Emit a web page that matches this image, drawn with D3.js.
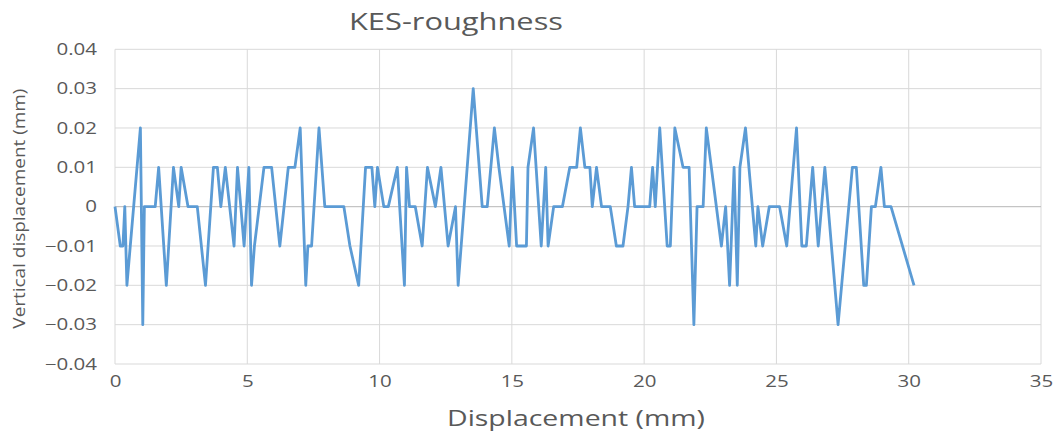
<!DOCTYPE html>
<html>
<head>
<meta charset="utf-8">
<script src="https://cdn.jsdelivr.net/npm/d3@7"></script>
<style>
  html, body { margin: 0; padding: 0; background: #fff; }
  svg { display: block; }
  text { font-family: "Open Sans", "Liberation Sans", sans-serif; fill: #595959; }
</style>
</head>
<body>
<svg id="chart" width="1058" height="441"></svg>
<script>
// Profile position along the sample (mm)
const displacement = [
  0.00, 0.20, 0.30, 0.37, 0.45, 0.96, 1.05, 1.11, 1.52, 1.65,
  1.94, 2.21, 2.41, 2.50, 2.76, 3.11, 3.42, 3.72, 3.87, 4.00,
  4.17, 4.50, 4.63, 4.88, 5.06, 5.16, 5.27, 5.63, 5.92, 6.23,
  6.55, 6.80, 7.00, 7.21, 7.29, 7.43, 7.71, 7.93, 8.65, 8.88,
  9.21, 9.47, 9.71, 9.82, 9.92, 10.16, 10.33, 10.67, 10.94, 11.02,
  11.13, 11.35, 11.61, 11.81, 12.11, 12.32, 12.59, 12.87, 12.97, 13.54,
  13.88, 14.07, 14.34, 14.51, 14.90, 15.02, 15.18, 15.55, 15.61, 15.82,
  16.11, 16.28, 16.37, 16.58, 16.91, 17.19, 17.45, 17.59, 17.76, 17.95,
  18.04, 18.20, 18.39, 18.72, 18.95, 19.20, 19.39, 19.52, 19.64, 20.21,
  20.32, 20.42, 20.59, 20.87, 20.99, 21.16, 21.47, 21.70, 21.88, 22.00,
  22.23, 22.35, 22.92, 23.08, 23.23, 23.40, 23.52, 23.62, 23.83, 24.22,
  24.30, 24.48, 24.73, 25.12, 25.39, 25.76, 25.96, 26.13, 26.37, 26.58,
  26.83, 27.33, 27.87, 28.02, 28.30, 28.40, 28.59, 28.74, 28.95, 29.08,
  29.33, 30.20
];

// Vertical displacement of the surface (mm)
const vertical = [
  0.00, -0.01, -0.01, 0.00, -0.02, 0.02, -0.03, 0.00, 0.00, 0.01,
  -0.02, 0.01, 0.00, 0.01, 0.00, 0.00, -0.02, 0.01, 0.01, 0.00,
  0.01, -0.01, 0.01, -0.01, 0.01, -0.02, -0.01, 0.01, 0.01, -0.01,
  0.01, 0.01, 0.02, -0.02, -0.01, -0.01, 0.02, 0.00, 0.00, -0.01,
  -0.02, 0.01, 0.01, 0.00, 0.01, 0.00, 0.00, 0.01, -0.02, 0.01,
  0.00, 0.00, -0.01, 0.01, 0.00, 0.01, -0.01, 0.00, -0.02, 0.03,
  0.00, 0.00, 0.02, 0.01, -0.01, 0.01, -0.01, -0.01, 0.01, 0.02,
  -0.01, 0.01, -0.01, 0.00, 0.00, 0.01, 0.01, 0.02, 0.01, 0.01,
  0.00, 0.01, 0.00, 0.00, -0.01, -0.01, 0.00, 0.01, 0.00, 0.00,
  0.01, 0.00, 0.02, -0.01, -0.01, 0.02, 0.01, 0.01, -0.03, 0.00,
  0.00, 0.02, -0.01, 0.00, -0.02, 0.01, -0.02, 0.01, 0.02, -0.01,
  0.00, -0.01, 0.00, 0.00, -0.01, 0.02, -0.01, -0.01, 0.01, -0.01,
  0.01, -0.03, 0.01, 0.01, -0.02, -0.02, 0.00, 0.00, 0.01, 0.00,
  0.00, -0.02
];

const xTicks = [0, 5, 10, 15, 20, 25, 30, 35];
const yTicks = [-0.04, -0.03, -0.02, -0.01, 0, 0.01, 0.02, 0.03, 0.04];

const chartTitle = "KES-roughness";
const xTitle = "Displacement (mm)";
const yTitle = "Vertical displacement (mm)";

const svg = d3.select("#chart");
const plot = { left: 115, right: 1041, top: 49.3, bottom: 364 };

const x = d3.scaleLinear().domain([0, 35]).range([plot.left, plot.right]);
const y = d3.scaleLinear().domain([-0.04, 0.04]).range([plot.bottom, plot.top]);

// Widen text horizontally by a factor, keeping it as plain text
function widen(sel, factor) {
  sel.each(function () {
    const w = this.getComputedTextLength();
    d3.select(this)
      .attr("textLength", w * factor)
      .attr("lengthAdjust", "spacingAndGlyphs");
  });
}

// Gridlines
svg.append("g")
  .selectAll("line")
  .data(yTicks)
  .join("line")
  .attr("x1", plot.left).attr("x2", plot.right)
  .attr("y1", d => y(d)).attr("y2", d => y(d))
  .attr("stroke", "#d9d9d9").attr("stroke-width", 1);

svg.append("g")
  .selectAll("line")
  .data(xTicks)
  .join("line")
  .attr("x1", d => x(d)).attr("x2", d => x(d))
  .attr("y1", plot.top).attr("y2", plot.bottom)
  .attr("stroke", "#d9d9d9").attr("stroke-width", 1);

// Horizontal axis line crossing at zero
svg.append("line")
  .attr("x1", plot.left).attr("x2", plot.right)
  .attr("y1", y(0)).attr("y2", y(0))
  .attr("stroke", "#bfbfbf").attr("stroke-width", 1);

// Y axis labels
const yAxis = d3.axisLeft(y).tickValues(yTicks)
  .tickFormat(d => d === 0 ? "0" : d3.format(".2f")(d))
  .tickSize(0).tickPadding(18);
const gy = svg.append("g").attr("transform", `translate(${plot.left},0)`).call(yAxis);
gy.select(".domain").remove();
gy.selectAll("text").style("font-size", "16px").attr("fill", "#595959");
widen(gy.selectAll("text"), 1.28);

// X axis labels along the bottom
const xAxis = d3.axisBottom(x).tickValues(xTicks).tickSize(0).tickPadding(12);
const gx = svg.append("g").attr("transform", `translate(0,${plot.bottom})`).call(xAxis);
gx.select(".domain").remove();
gx.selectAll("text").style("font-size", "16px").attr("fill", "#595959");
widen(gx.selectAll("text"), 1.28);

// Profile line
const line = d3.line()
  .x((d, i) => x(displacement[i]))
  .y(d => y(d));
svg.append("path")
  .datum(vertical)
  .attr("d", line)
  .attr("fill", "none")
  .attr("stroke", "#5b9bd5")
  .attr("stroke-width", 2.8)
  .attr("stroke-linejoin", "round");

// Titles
svg.append("text")
  .attr("x", 456).attr("y", 30)
  .attr("text-anchor", "middle")
  .style("font-size", "24px")
  .attr("textLength", 214)
  .attr("lengthAdjust", "spacingAndGlyphs")
  .text(chartTitle);

svg.append("text")
  .attr("x", 576).attr("y", 426)
  .attr("text-anchor", "middle")
  .style("font-size", "22px")
  .attr("textLength", 258)
  .attr("lengthAdjust", "spacingAndGlyphs")
  .text(xTitle);

svg.append("text")
  .attr("transform", `translate(25,${(plot.top + plot.bottom) / 2 + 2}) rotate(-90)`)
  .attr("text-anchor", "middle")
  .style("font-size", "16px")
  .attr("textLength", 240)
  .attr("lengthAdjust", "spacingAndGlyphs")
  .text(yTitle);
</script>
</body>
</html>
